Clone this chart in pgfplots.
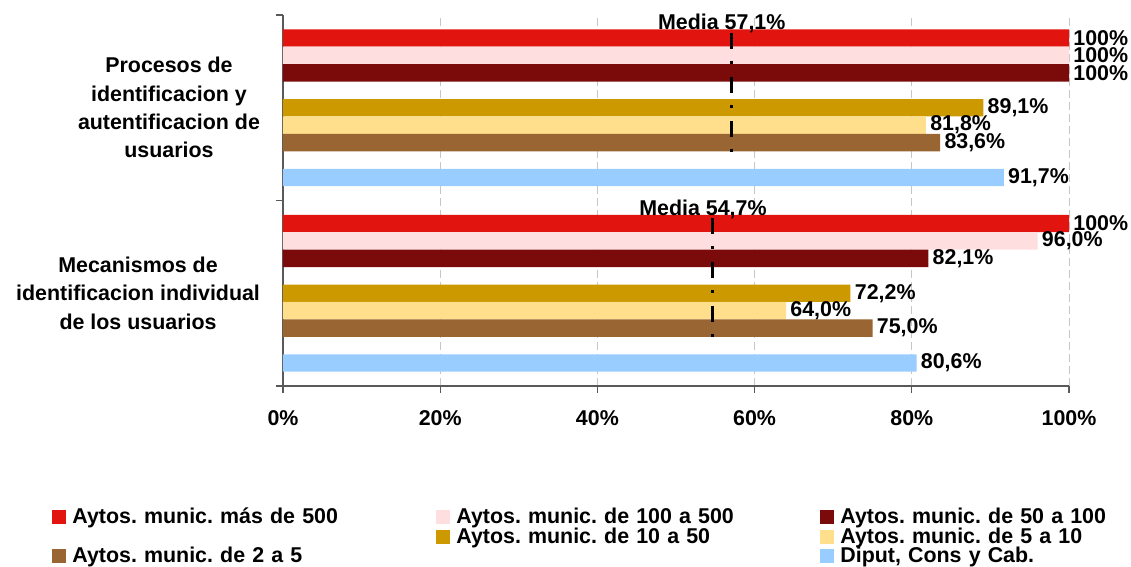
\documentclass[border=0pt]{standalone}
\usepackage{pgfplots}
\pgfplotsset{compat=1.18}
\usepackage{fontspec}
\setmainfont{Liberation Sans}
\frenchspacing

\definecolor{cMas500}{RGB}{226,20,16}
\definecolor{c100a500}{RGB}{255,222,224}
\definecolor{c50a100}{RGB}{123,11,11}
\definecolor{c10a50}{RGB}{204,153,0}
\definecolor{c5a10}{RGB}{255,223,140}
\definecolor{c2a5}{RGB}{153,102,51}
\definecolor{cDiput}{RGB}{153,204,255}

\newcommand\cf{\bfseries\fontsize{10.7}{12.5}\selectfont}
\newcommand\catf{\bfseries\fontsize{10.7}{14.15}\selectfont}

\pgfplotsset{
  bars/.style={
    xbar, bar width=0.094, bar shift=0, draw=none,
    point meta=explicit symbolic,
    nodes near coords,
    every node near coord/.append style={font=\cf, anchor=west, inner xsep=2pt, text=black},
  },
  media/.style={
    forget plot, sharp plot, black, line width=1.5pt,
    dash pattern=on 8pt off 6pt on 1.5pt off 6.5pt,
  },
}

\begin{document}
\begin{tikzpicture}
\path[use as bounding box] (0,0) rectangle (565.5pt,283.5pt);
\begin{axis}[
  at={(141.5pt,90.5pt)}, anchor=south west,
  scale only axis, width=393pt, height=185.5pt,
  xmin=0, xmax=100, ymin=-0.5, ymax=1.5,
  axis x line=bottom, axis y line=left,
  axis line style={-, black!65, line width=0.6pt},
  tick align=outside, major tick length=3.5pt,
  tick style={black!65, line width=0.6pt},
  xtick={0,20,40,60,80,100},
  xticklabels={0\%,20\%,40\%,60\%,80\%,100\%},
  xticklabel style={font=\cf, yshift=-5pt},
  ytick={-0.5,0.5,1.5}, yticklabels={},
  xmajorgrids,
  major grid style={gray!45, dash pattern=on 4pt off 2pt, line width=0.5pt},
  clip=false,
  legend columns=3,
  legend style={at={(-0.2939,-0.331)}, anchor=north west, draw=none, fill=none,
    inner sep=0pt, column sep=3pt, row sep=1.5pt, font=\cf,
    nodes={inner sep=0pt, text width=179pt, align=left, text height=7.4pt, text depth=0.8pt}},
  legend image code/.code={\fill[#1,draw=none] (0pt,-3.5pt) rectangle (7pt,3.5pt);},
]
% Category centres: y = 1 (Procesos ...), y = 0 (Mecanismos ...);
% each series sits in its own slot of 0.094 below the top of the group.
\addplot[bars, fill=cMas500] coordinates {(100,1.376) [100\%] (100,0.376) [100\%]};
\addlegendentry{Aytos. munic. más de 500}
\addplot[bars, fill=c100a500] coordinates {(100,1.282) [100\%] (96.0,0.282) [{96,0\%}]};
\addlegendentry{Aytos. munic. de 100 a 500}
\addplot[bars, fill=c50a100] coordinates {(100,1.188) [100\%] (82.1,0.188) [{82,1\%}]};
\addlegendentry{Aytos. munic. de 50 a 100}
\addlegendimage{empty legend}
\addlegendentry{}
\addplot[bars, fill=c10a50] coordinates {(89.1,1) [{89,1\%}] (72.2,0) [{72,2\%}]};
\addlegendentry{Aytos. munic. de 10 a 50}
\addplot[bars, fill=c5a10] coordinates {(81.8,0.906) [{81,8\%}] (64.0,-0.094) [{64,0\%}]};
\addlegendentry{Aytos. munic. de 5 a 10}
\addplot[bars, fill=c2a5] coordinates {(83.6,0.812) [{83,6\%}] (75.0,-0.188) [{75,0\%}]};
\addlegendentry{Aytos. munic. de 2 a 5}
\addlegendimage{empty legend}
\addlegendentry{}
\addplot[bars, fill=cDiput] coordinates {(91.7,0.624) [{91,7\%}] (80.6,-0.376) [{80,6\%}]};
\addlegendentry{Diput, Cons y Cab.}

% mean lines
\addplot[media] coordinates {(57.1,1.405) (57.1,0.70)};
\addplot[media] coordinates {(54.7,0.405) (54.7,-0.30)};
\node[font=\cf, xshift=-5pt, yshift=4.5pt] at (axis cs:57.1,1.405) {Media 57,1\%};
\node[font=\cf, xshift=-5pt, yshift=4.5pt] at (axis cs:54.7,0.405) {Media 54,7\%};

% category labels
\node[font=\catf, align=center, anchor=east, xshift=-8pt] at (axis cs:0,1)
  {Procesos de\\identificacion y\\autentificacion de\\usuarios};
\node[font=\catf, align=center, anchor=east, xshift=-8pt] at (axis cs:0,0)
  {Mecanismos de\\identificacion individual\\de los usuarios};
\end{axis}
\end{tikzpicture}
\end{document}
